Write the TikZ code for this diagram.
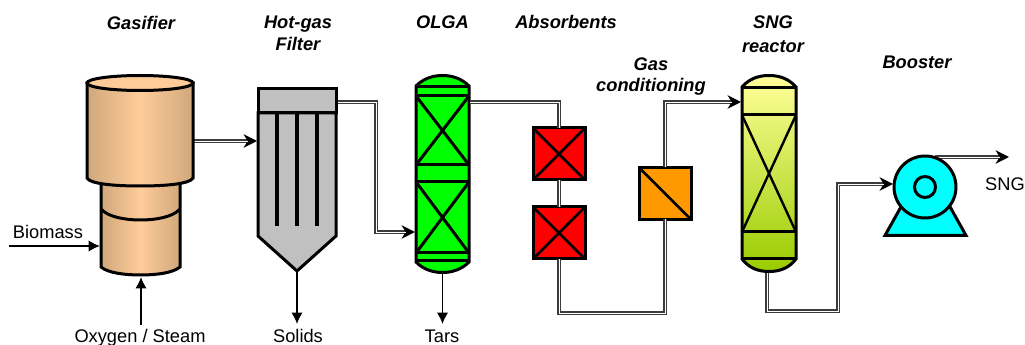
\documentclass[tikz,border=0pt]{standalone}
\usepackage{fontspec}
\setmainfont{Liberation Sans}
\usetikzlibrary{arrows.meta}
\definecolor{tandark}{RGB}{208,168,124}
\definecolor{tanlight}{RGB}{255,204,153}
\definecolor{sngtop}{RGB}{255,255,153}
\definecolor{sngbot}{RGB}{153,204,0}
\definecolor{pipegray}{RGB}{60,60,60}
\definecolor{condorange}{RGB}{255,153,0}
\definecolor{pumpcyan}{RGB}{0,255,255}
\definecolor{olgagreen}{RGB}{0,255,0}
\definecolor{absred}{RGB}{255,0,0}
\definecolor{filtergray}{RGB}{192,192,192}
\tikzset{
  x=0.75pt,y=-0.75pt,
  equip/.style={line width=2.25pt,draw=black,line join=miter},
  thin part/.style={line width=2.25pt,draw=black},
  tan shade/.style={left color=tandark,right color=tandark,middle color=tanlight},
  boxunit/.style={rectangle,draw=black,line width=2.25pt,minimum width=39pt,minimum height=39pt,inner sep=0pt,outer sep=0pt},
  pipeouter/.style={draw=pipegray,line width=2.3pt,line join=miter},
  pipeinner/.style={draw=white,line width=0.6pt,line join=miter},
  pipetip/.style={-{Stealth[inset=3pt,length=10pt,width=10pt,color=black]}},
  feed/.style={draw=black,line width=1.3pt,-{Latex[length=8.5pt,width=8.5pt]}},
  lab/.style={font=\fontsize{13.7}{16}\selectfont,anchor=base,inner sep=0pt},
  title/.style={font=\fontsize{13.7}{16}\selectfont\bfseries\itshape,anchor=base,inner sep=0pt}
}
\newcommand{\pipeplain}[1]{\draw[pipeouter] #1; \draw[pipeinner] #1;}
\newcommand{\pipearrowed}[1]{\draw[pipeouter,pipetip] #1; \draw[pipeinner,shorten >=7pt] #1;}
\begin{document}
\begin{tikzpicture}
\useasboundingbox (0,0) rectangle (1025,345);
% named connection points
\coordinate (biomassin) at (9,246);
\coordinate (gasinB) at (100,246);
\coordinate (oxyin) at (141,325);
\coordinate (gasinO) at (141,277);
\coordinate (gasout) at (194,141);
\coordinate (filin) at (257,141);
\coordinate (filout) at (337,102);
\coordinate (filtip) at (297,272);
\coordinate (solidsout) at (297,324);
\coordinate (olgain) at (415,232);
\coordinate (olgaout) at (470,102);
\coordinate (olgabot) at (442.5,273);
\coordinate (tarsout) at (442.5,324);
\coordinate (sngin) at (741,102);
\coordinate (sngout) at (767,273);
\coordinate (boosterin) at (893,184);
\coordinate (boosterout) at (935,157);
\coordinate (sngend) at (1009,157);

% connectors first
\pipearrowed{(gasout) -- (filin)}
\pipearrowed{(filout) -- (376,102) -- (376,232) -- (olgain)}
\pipearrowed{(sngout) -- (767,311) -- (838,311) -- (838,184) -- (boosterin)}
\pipearrowed{(boosterout) -- (sngend)}

% Gasifier
\path[equip,tan shade] (101,178) -- (101,267) .. controls (108,273) and (125,275) .. (140.5,275) .. controls (156,275) and (173,273) .. (180,267) -- (180,178) -- cycle;
\draw[thin part] (101,209) .. controls (108,217) and (125,220) .. (140.5,220) .. controls (156,220) and (173,217) .. (180,209);
\path[equip,tan shade] (87,83) -- (87,178) .. controls (90,184) and (115,186) .. (140,186) .. controls (165,186) and (190,184) .. (193,178) -- (193,83) -- cycle;
\draw[equip,fill=tanlight] (140,83) ellipse [x radius=53,y radius=7.5];

% Filter
\draw[equip,fill=filtergray] (258,113) -- (258,236) -- (297,271) -- (336,236) -- (336,113) -- cycle;
\draw[equip,fill=filtergray] (258,89) rectangle (336,113);
\foreach \bx in {277,297,317}{\draw[line width=3pt] (\bx,113) -- (\bx,226);}

% OLGA
\draw[equip,fill=olgagreen] (416,86) .. controls (423,79) and (432,75.5) .. (442.5,75.5) .. controls (453,75.5) and (462,79) .. (469,86) -- (469,262) .. controls (462,269) and (453,272.5) .. (442.5,272.5) .. controls (432,272.5) and (423,269) .. (416,262) -- cycle;
\foreach \ly in {87,96,165,182,253,261}{\draw[line width=2.25pt] (416,\ly) -- (469,\ly);}
\draw[line width=2.25pt] (416,96) -- (469,165) (469,96) -- (416,165) (416,182) -- (469,253) (469,182) -- (416,253);

% Absorbents and conditioning
\node[boxunit,fill=absred] (abs1) at (559,154) {};
\node[boxunit,fill=absred] (abs2) at (559,233) {};
\node[boxunit,fill=condorange] (cond) at (665,193.5) {};
\draw[line width=2pt] (abs1.north west) -- (abs1.south east) (abs1.north east) -- (abs1.south west);
\draw[line width=2pt] (abs2.north west) -- (abs2.south east) (abs2.north east) -- (abs2.south west);
\draw[line width=2pt] (cond.north west) -- (cond.south east);
\pipeplain{(olgaout) -- (abs1.north |- olgaout) -- (abs1.north)}
\pipeplain{(abs1.south) -- (abs2.north)}
\pipeplain{(abs2.south) -- (559,313) -- (665,313) -- (cond.south)}
\pipearrowed{(cond.north) -- (665,102) -- (sngin)}

% SNG reactor
\draw[equip,top color=sngtop,bottom color=sngbot] (742,87) .. controls (749,79) and (758,75.5) .. (769,75.5) .. controls (780,75.5) and (789,79) .. (796,87) -- (796,259) .. controls (789,268) and (780,271.5) .. (769,271.5) .. controls (758,271.5) and (749,268) .. (742,259) -- cycle;
\foreach \ly in {88,115,232,259}{\draw[line width=2.25pt] (742,\ly) -- (796,\ly);}
\draw[line width=1.8pt] (742,115) -- (796,232) (796,115) -- (742,232);

% Booster
\draw[equip,fill=pumpcyan] (902,205) -- (885,235.5) -- (966,235.5) -- (949,205) -- cycle;
\draw[equip,fill=pumpcyan] (925,187) circle [radius=31];
\draw[equip,fill=pumpcyan] (925,187) circle [radius=10.5];

% single-line feeds
\draw[feed] (biomassin) -- (gasinB);
\draw[feed] (oxyin) -- (gasinO);
\draw[feed] (filtip) -- (solidsout);
\draw[feed] (olgabot) -- (tarsout);

% titles
\node[title] (tgas) at (141,30) {Gasifier};
\node[title] (thot) at (298,29) {Hot-gas};
\node[title] (tfil) at (298,51) {Filter};
\node[title] (tolga) at (442.5,29) {OLGA};
\node[title] (tabs) at (566,29) {Absorbents};
\node[title] (tgas2) at (651,71) {Gas};
\node[title] (tcond) at (651,92) {conditioning};
\node[title] (tsng) at (773,29) {SNG};
\node[title] (trea) at (773,53) {reactor};
\node[title] (tboo) at (917,69) {Booster};
% labels
\node[lab] (lbio) at (48,239) {Biomass};
\node[lab] (loxy) at (140,343) {Oxygen / Steam};
\node[lab] (lsol) at (298,343) {Solids};
\node[lab] (ltar) at (442,343) {Tars};
\node[lab] (lsng) at (1005,191) {SNG};
\end{tikzpicture}
\end{document}
